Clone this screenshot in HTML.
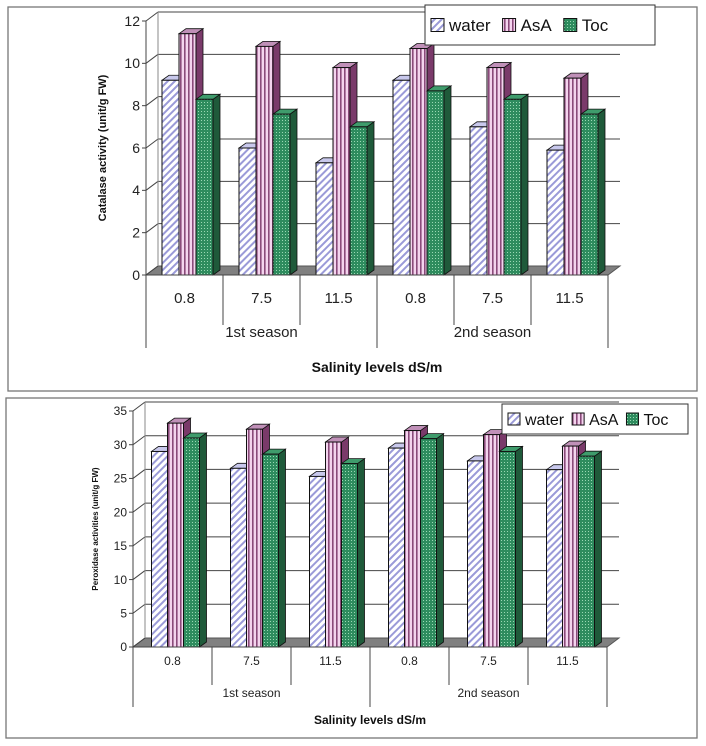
<!DOCTYPE html>
<html><head><meta charset="utf-8"><style>
body{margin:0;background:#fff;font-family:"Liberation Sans",Arial,sans-serif;}
svg{display:block}
</style></head><body>
<svg id="s" width="706" height="746" xmlns="http://www.w3.org/2000/svg">
<defs>
<pattern id="pw" patternUnits="userSpaceOnUse" width="5" height="5" patternTransform="rotate(45)"><rect width="5" height="5" fill="#fff"/><rect width="2" height="5" fill="#9a9ad8"/></pattern>
<pattern id="pa" patternUnits="userSpaceOnUse" width="4" height="4"><rect width="4" height="4" fill="#f4d4ee"/><rect width="1.6" height="4" fill="#8a4a7a"/></pattern>
<pattern id="pt" patternUnits="userSpaceOnUse" width="3" height="3"><rect width="3" height="3" fill="#2e8c5e"/><rect width="1" height="1" fill="#9ad8b4"/></pattern>
</defs>
</svg>
<script>
const categories=["0.8","7.5","11.5","0.8","7.5","11.5"];
const seasons=["1st season","2nd season"];
const seriesNames=["water","AsA","Toc"];
const catWater=[9.2,6.0,5.3,9.2,7.0,5.9];
const catAsA=[11.4,10.8,9.8,10.7,9.8,9.3];
const catToc=[8.3,7.6,7.0,8.7,8.3,7.6];
const catTicks=[0,2,4,6,8,10,12];
const perWater=[29,26.5,25.3,29.5,27.6,26.3];
const perAsA=[33.2,32.3,30.4,32.1,31.5,29.8];
const perToc=[31,28.6,27.2,30.9,29,28.3];
const perTicks=[0,5,10,15,20,25,30,35];

const NS="http://www.w3.org/2000/svg";
const svg=document.getElementById('s');
function mk(tag,attrs,parent,text){const e=document.createElementNS(NS,tag);for(const k in attrs)e.setAttribute(k,attrs[k]);if(text!==undefined)e.textContent=text;(parent||svg).appendChild(e);return e;}
const fills=["url(#pw)","url(#pa)","url(#pt)"];
const sideC=["#8080b0","#7a3a6a","#1f5a3a"];
const topC=["#c8c8ec","#c090b8","#3f9c6c"];

function chart(c){
  const g=mk('g',{});
  
  
  const fr=mk('rect',{x:c.frame[0],y:c.frame[1],width:c.frame[2],height:c.frame[3],fill:'#fff',stroke:'#777','stroke-width':1.3},g);
  
  const x0=c.ax, y0=c.y0, W=c.cellW*categories.length, max=c.ticks[c.ticks.length-1];
  const Y=v=>y0-(v/max)*(y0-c.yTop);
  const dx=12, dy=-9;
  // floor
  const fl=mk('polygon',{points:`${x0},${y0} ${x0+W},${y0} ${x0+W+dx},${y0+dy} ${x0+dx},${y0+dy}`,fill:'#808080',stroke:'#555'},g);
  
  // gridlines and ticks
  c.ticks.forEach(t=>{
    const y=Y(t);
    if(t>0){const gl=mk('line',{x1:x0+dx,y1:y+dy,x2:x0+W+dx,y2:y+dy,stroke:'#444','stroke-width':1},g);
      }
    mk('line',{x1:x0,y1:y,x2:x0+dx,y2:y+dy,stroke:'#444'},g);
    mk('line',{x1:x0-4,y1:y,x2:x0,y2:y,stroke:'#444'},g);
    const tl=mk('text',{x:x0-6,y:y+c.tickFs*0.35,'text-anchor':'end','font-size':c.tickFs,fill:'#222'},g,String(t));
    
  });
  mk('line',{x1:x0,y1:y0,x2:x0,y2:Y(max),stroke:'#444'},g);
  mk('line',{x1:x0+dx,y1:y0+dy,x2:x0+dx,y2:Y(max)+dy,stroke:'#888'},g);
  // bars
  const bw=c.bw, bdx=7, bdy=-5;
  categories.forEach((cat,i)=>{
    const gx=x0+i*c.cellW+(c.cellW-3*bw)/2+3;
    c.series.forEach((arr,s)=>{
      const x=gx+s*bw, yt=Y(arr[i]);
      const side=mk('polygon',{points:`${x+bw},${y0} ${x+bw+bdx},${y0+bdy} ${x+bw+bdx},${yt+bdy} ${x+bw},${yt}`,fill:sideC[s],stroke:'#111','stroke-width':0.8},g);
      
      const top=mk('polygon',{points:`${x},${yt} ${x+bw},${yt} ${x+bw+bdx},${yt+bdy} ${x+bdx},${yt+bdy}`,fill:topC[s],stroke:'#111','stroke-width':0.8},g);
      
      const r=mk('rect',{x:x,y:yt,width:bw,height:y0-yt,fill:fills[s],stroke:'#111','stroke-width':1},g);
      
    });
  });
  // category axis
  mk('line',{x1:x0,y1:y0,x2:x0+W,y2:y0,stroke:'#444'},g);
  for(let i=0;i<=categories.length;i++){
    const x=x0+i*c.cellW;
    const bot=(i%3===0)?c.divBot:c.seasonY-12;
    mk('line',{x1:x,y1:y0,x2:x,y2:bot,stroke:'#444'},g);
  }
  categories.forEach((cat,i)=>{
    const t=mk('text',{x:x0+(i+0.5)*c.cellW,y:c.catY,'text-anchor':'middle','font-size':c.catFs,fill:'#222'},g,cat);
    
  });
  seasons.forEach((s,i)=>{
    const t=mk('text',{x:x0+(i*3+1.5)*c.cellW,y:c.seasonY,'text-anchor':'middle','font-size':c.catFs,fill:'#222'},g,s);
    
  });
  const xt=mk('text',{x:x0+W/2,y:c.xTitleY,'text-anchor':'middle','font-size':c.xTitleFs,'font-weight':'bold',fill:'#111'},g,'Salinity levels dS/m');
  
  const yt=mk('text',{x:0,y:0,'text-anchor':'middle','font-size':c.yTitleFs,'font-weight':'bold',fill:'#111',transform:`translate(${c.yTitleX},${(y0+c.yTop)/2}) rotate(-90)`},g,c.yTitle);
  
  // legend
  const L=c.legend;
  const lg=mk('g',{},g);
  
  mk('rect',{x:L[0],y:L[1],width:L[2],height:L[3],fill:'#fff',stroke:'#333'},lg);
  let lx=L[0]+6;
  seriesNames.forEach((n,s)=>{
    const sq=c.legSq;
    const e=mk('g',{},lg);
    
    mk('rect',{x:lx,y:L[1]+(L[3]-sq)/2,width:sq,height:sq,fill:fills[s],stroke:'#111'},e);
    const t=mk('text',{x:lx+sq+5,y:L[1]+L[3]/2+c.legFs*0.36,'font-size':c.legFs,fill:'#111'},e,n);
    lx+=sq+5+t.getComputedTextLength()+c.legGap;
  });
}

chart({name:'catalase-chart',frame:[8,7,689,384],ax:146,y0:275,yTop:21,cellW:77,bw:17,
  series:[catWater,catAsA,catToc],ticks:catTicks,tickFs:14,catFs:15,catY:303,seasonY:337,divBot:348,
  xTitleY:372,xTitleFs:14,yTitle:'Catalase activity (unit/g FW)',yTitleX:106,yTitleFs:11,
  legend:[425,5,230,40],legSq:13,legFs:17,legGap:12});
chart({name:'peroxidase-chart',frame:[6,398,691,340],ax:133,y0:647,yTop:411,cellW:79,bw:16,
  series:[perWater,perAsA,perToc],ticks:perTicks,tickFs:12,catFs:12,catY:665,seasonY:697,divBot:707,
  xTitleY:724,xTitleFs:12,yTitle:'Peroxidase activities (unit/g FW)',yTitleX:98,yTitleFs:8,
  legend:[502,404,186,30],legSq:12,legFs:16,legGap:8});
</script>
</body></html>
